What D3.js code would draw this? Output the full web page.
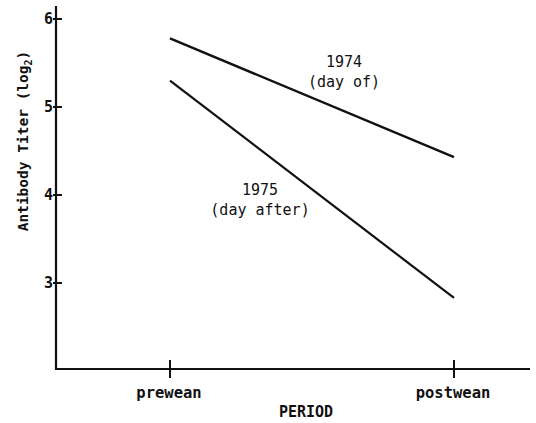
<!DOCTYPE html>
<html>
<head>
<meta charset="utf-8">
<script src="https://cdn.jsdelivr.net/npm/d3@7"></script>
<style>
  body { margin: 0; background: #fff; }
  text { font-family: "DejaVu Sans Mono", monospace; fill: #111; }
</style>
</head>
<body>
<div id="chart"></div>
<script>
// data
const periods = ['prewean', 'postwean']
const years = ['1974', '1975']
const yearNotes = ['(day of)', '(day after)']
const titer1974 = [5.78, 4.43]
const titer1975 = [5.30, 2.83]
const yTicks = [3, 4, 5, 6]

const width = 536
const height = 423

const svg = d3.select('#chart')
    .append('svg')
    .attr('width', width)
    .attr('height', height)

const x = d3.scalePoint()
    .domain(periods)
    .range([170, 454])

const y = d3.scaleLinear()
    .domain([2, 6])
    .range([371, 19])

const axisX0 = 56
const axisY0 = 369

// axes lines
svg.append('path')
    .attr('d', `M${axisX0},6 L${axisX0},${axisY0} L530,${axisY0}`)
    .attr('fill', 'none')
    .attr('stroke', '#111')
    .attr('stroke-width', 2.2)

// y ticks
svg.selectAll('.ytick')
    .data(yTicks)
    .enter().append('line')
    .attr('class', 'ytick')
    .attr('x1', axisX0 - 3)
    .attr('x2', axisX0 + 6)
    .attr('y1', d => y(d))
    .attr('y2', d => y(d))
    .attr('stroke', '#111')
    .attr('stroke-width', 2)

svg.selectAll('.ylab')
    .data(yTicks)
    .enter().append('text')
    .attr('class', 'ylab')
    .attr('x', axisX0 - 3)
    .attr('y', d => y(d) + 5)
    .attr('text-anchor', 'end')
    .attr('font-size', 15)
    .attr('font-weight', 'bold')
    .text(d => d)

// x ticks
svg.selectAll('.xtick')
    .data(periods)
    .enter().append('line')
    .attr('class', 'xtick')
    .attr('x1', d => x(d))
    .attr('x2', d => x(d))
    .attr('y1', axisY0 - 9)
    .attr('y2', axisY0 + 9)
    .attr('stroke', '#111')
    .attr('stroke-width', 2)

svg.selectAll('.xlab')
    .data(periods)
    .enter().append('text')
    .attr('class', 'xlab')
    .attr('x', d => x(d) - 1)
    .attr('y', 398)
    .attr('text-anchor', 'middle')
    .attr('font-size', 15.5)
    .attr('font-weight', 'bold')
    .text(d => d)

svg.append('text')
    .attr('x', 306)
    .attr('y', 417)
    .attr('text-anchor', 'middle')
    .attr('font-size', 15)
    .attr('font-weight', 'bold')
    .text('PERIOD')

// y axis title
const yTitle = svg.append('text')
    .attr('transform', 'translate(28,141) rotate(-90)')
    .attr('text-anchor', 'middle')
    .attr('font-size', 14.5)
    .attr('font-weight', 'bold')
yTitle.append('tspan').text('Antibody Titer (log')
yTitle.append('tspan').attr('font-size', 10).attr('dy', 4).text('2')
yTitle.append('tspan').attr('dy', -4).text(')')

// lines
const line = d3.line()
    .x((d, i) => x(periods[i]))
    .y(d => y(d))

svg.append('path')
    .datum(titer1974)
    .attr('d', line)
    .attr('fill', 'none')
    .attr('stroke', '#111')
    .attr('stroke-width', 2.4)

svg.append('path')
    .datum(titer1975)
    .attr('d', line)
    .attr('fill', 'none')
    .attr('stroke', '#111')
    .attr('stroke-width', 2.2)

// line labels
const labelPos = [[344, 67], [260, 195]]
years.forEach((yr, i) => {
    const t = svg.append('text')
        .attr('text-anchor', 'middle')
        .attr('font-size', 15)
    t.append('tspan').attr('x', labelPos[i][0]).attr('y', labelPos[i][1]).text(yr)
    t.append('tspan').attr('x', labelPos[i][0]).attr('y', labelPos[i][1] + 20).text(yearNotes[i])
})
</script>
</body>
</html>
